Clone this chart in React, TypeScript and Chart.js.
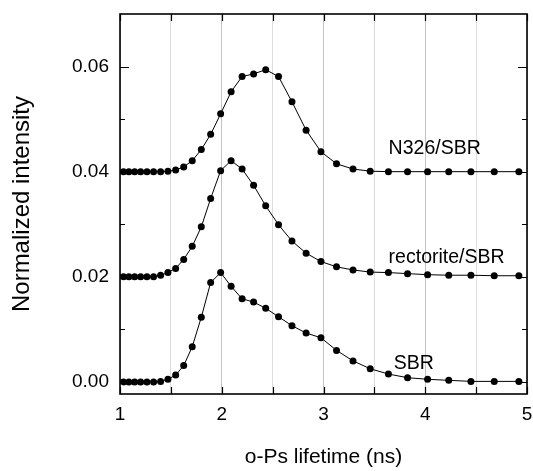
import React, { useEffect, useRef } from 'react';
import { Chart, registerables } from 'chart.js';

Chart.register(...registerables);

// o-Ps lifetime (ns) of each sampled point
const lifetimes = [
  1.034, 1.087, 1.144, 1.203, 1.265, 1.330, 1.399, 1.471, 1.547, 1.626,
  1.710, 1.799, 1.891, 1.989, 2.092, 2.200, 2.313, 2.432, 2.558, 2.690,
  2.829, 2.975, 3.128, 3.290, 3.459, 3.638, 3.826, 4.023, 4.231, 4.449,
  4.678, 4.920,
];

const n326Sbr = [
  0.0400, 0.0400, 0.0400, 0.0400, 0.0400, 0.0400, 0.0400, 0.0401, 0.0403, 0.0409,
  0.0421, 0.0442, 0.0471, 0.0510, 0.0552, 0.0581, 0.0586, 0.0594, 0.0581, 0.0533,
  0.0479, 0.0438, 0.0415, 0.0405, 0.0401, 0.0400, 0.0400, 0.0400, 0.0400, 0.0400,
  0.0400, 0.0400,
];

const rectoriteSbr = [
  0.0200, 0.0200, 0.0200, 0.0200, 0.0200, 0.0200, 0.0203, 0.0208, 0.0216, 0.0233,
  0.0258, 0.0295, 0.0349, 0.0402, 0.0421, 0.0405, 0.0374, 0.0335, 0.0299, 0.0268,
  0.0245, 0.0229, 0.0219, 0.0213, 0.0209, 0.0208, 0.0206, 0.0204, 0.0203, 0.0203,
  0.0202, 0.0202,
];

const sbr = [
  0.0000, 0.0000, 0.0000, 0.0000, 0.0000, 0.0000, 0.0001, 0.0005, 0.0013, 0.0031,
  0.0067, 0.0123, 0.0189, 0.0208, 0.0182, 0.0158, 0.0152, 0.0140, 0.0124, 0.0107,
  0.0093, 0.0084, 0.0060, 0.0040, 0.0025, 0.0015, 0.0008, 0.0005, 0.0003, 0.0001,
  0.0001, 0.0001,
];

const seriesNames = ['N326/SBR', 'rectorite/SBR', 'SBR'];

const xTicks = [1, 1.5, 2, 2.5, 3, 3.5, 4, 4.5, 5];
const xTickLabels = ['1', '', '2', '', '3', '', '4', '', '5'];
const yTicks = [0, 0.01, 0.02, 0.03, 0.04, 0.05, 0.06];
const yTickLabels = ['0.00', '', '0.02', '', '0.04', '', '0.06'];

const xTitle = 'o-Ps lifetime (ns)';
const yTitle = 'Normalized intensity';

// where each curve name is written (data coordinates)
const curveLabelPos = [
  { x: 3.64, y: 0.0434 },
  { x: 3.64, y: 0.0227 },
  { x: 3.69, y: 0.0024 },
];

const FONT = '"Liberation Sans", Arial, Helvetica, sans-serif';

const framePlugin = {
  id: 'frameTicksLabels',
  afterDatasetsDraw(chart: any) {
    const { ctx, chartArea: a, scales } = chart;
    const x = scales.x;
    const y = scales.y;
    ctx.save();
    // curve names
    ctx.fillStyle = '#000';
    ctx.font = `19.5px ${FONT}`;
    ctx.textAlign = 'left';
    ctx.textBaseline = 'alphabetic';
    seriesNames.forEach((name, i) => {
      const p = curveLabelPos[i];
      ctx.fillText(name, x.getPixelForValue(p.x), y.getPixelForValue(p.y));
    });
    // inward ticks
    ctx.strokeStyle = '#000';
    ctx.lineWidth = 1.2;
    ctx.beginPath();
    xTicks.forEach((v) => {
      const px = Math.round(x.getPixelForValue(v)) + 0.5;
      ctx.moveTo(px, a.bottom);
      ctx.lineTo(px, a.bottom - 7);
      ctx.moveTo(px, a.top);
      ctx.lineTo(px, a.top + 7);
    });
    yTicks.forEach((v, i) => {
      const py = Math.round(y.getPixelForValue(v)) + 0.5;
      const len = yTickLabels[i] ? 9 : 5;
      ctx.moveTo(a.left, py);
      ctx.lineTo(a.left + len, py);
      ctx.moveTo(a.right, py);
      ctx.lineTo(a.right - len, py);
    });
    ctx.stroke();
    // frame
    ctx.lineWidth = 1.6;
    ctx.strokeRect(a.left, a.top, a.right - a.left, a.bottom - a.top);
    ctx.restore();
  },
};

const noScalePadding = (s: any) => {
  s.paddingTop = 0;
  s.paddingBottom = 0;
  s.paddingLeft = 0;
  s.paddingRight = 0;
};

export default function App() {
  const canvasRef = useRef<HTMLCanvasElement | null>(null);

  useEffect(() => {
    const canvas = canvasRef.current;
    if (!canvas) return;
    const series = [n326Sbr, rectoriteSbr, sbr];
    const chart = new Chart(canvas, {
      type: 'line',
      data: {
        datasets: series.map((vals, i) => ({
          label: seriesNames[i],
          data: vals.map((v, j) => ({ x: lifetimes[j], y: v })),
          borderColor: '#000',
          borderWidth: 1,
          backgroundColor: '#000',
          pointBackgroundColor: '#000',
          pointBorderWidth: 0,
          pointRadius: 3.5,
          tension: 0,
          fill: false,
        })),
      },
      options: {
        animation: false,
        responsive: false,
        devicePixelRatio: 1,
        layout: { padding: { top: 14, right: 6, left: 0, bottom: 0 } },
        plugins: {
          legend: { display: false },
          tooltip: { enabled: false },
        },
        scales: {
          x: {
            type: 'linear',
            min: 1,
            max: 5,
            afterBuildTicks: (s: any) => {
              s.ticks = xTicks.map((v) => ({ value: v }));
            },
            afterFit: (s: any) => {
              s.height = 77;
              noScalePadding(s);
            },
            ticks: {
              color: '#000',
              font: { family: FONT, size: 19 },
              padding: 9,
              maxRotation: 0,
              autoSkip: false,
              callback: (_v: any, i: number) => xTickLabels[i],
            },
            grid: {
              drawTicks: false,
              lineWidth: 1,
              color: (c: any) =>
                c.tick && Number.isInteger(c.tick.value) ? '#c4c4c4' : '#dcdcdc',
              borderDash: (c: any) =>
                c.tick && Number.isInteger(c.tick.value) ? [] : [1, 1],
            } as any,
            border: { display: false },
            title: {
              display: true,
              text: xTitle,
              color: '#000',
              font: { family: FONT, size: 21 },
              padding: { top: 0, bottom: 1 },
            },
          },
          y: {
            type: 'linear',
            min: -0.0023,
            max: 0.07,
            afterBuildTicks: (s: any) => {
              s.ticks = yTicks.map((v) => ({ value: v }));
            },
            afterFit: (s: any) => {
              s.width = 120;
              noScalePadding(s);
            },
            ticks: {
              color: '#000',
              font: { family: FONT, size: 19 },
              padding: 11,
              autoSkip: false,
              callback: (_v: any, i: number) => yTickLabels[i],
            },
            grid: { display: false, drawTicks: false },
            border: { display: false },
            title: {
              display: true,
              text: yTitle,
              color: '#000',
              font: { family: FONT, size: 24 },
              padding: { top: 8, bottom: 0 },
            },
          },
        },
      },
      plugins: [framePlugin],
    } as any);
    return () => chart.destroy();
  }, []);

  return (
    <div style={{ position: 'fixed', left: 0, top: 0, width: 533, height: 471, background: '#fff' }}>
      <canvas ref={canvasRef} width={533} height={471} style={{ display: 'block' }} />
    </div>
  );
}
